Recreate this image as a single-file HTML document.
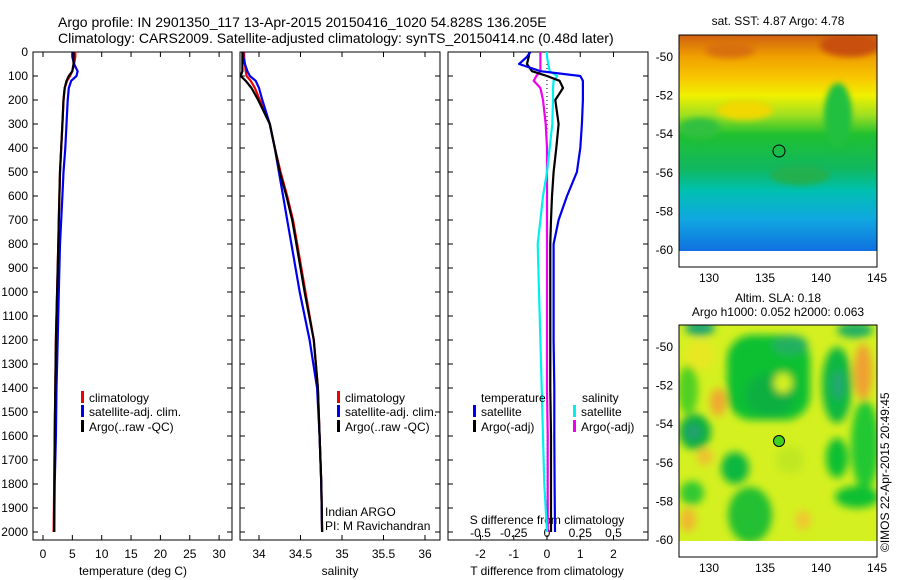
<!DOCTYPE html>
<html><head><meta charset="utf-8">
<style>
html,body{margin:0;padding:0;background:#fff;}
svg{display:block;font-family:"Liberation Sans",sans-serif;}
text{fill:#000;}
</style></head>
<body>
<svg id="chart" width="900" height="580" viewBox="0 0 900 580">
<defs>
  <filter id="blur6" x="-50%" y="-50%" width="200%" height="200%"><feGaussianBlur stdDeviation="4"/></filter>
  <filter id="blur3" x="-50%" y="-50%" width="200%" height="200%"><feGaussianBlur stdDeviation="3"/></filter>
  <linearGradient id="sstGrad" x1="0" y1="0" x2="0" y2="1">
    <stop offset="0" stop-color="#d06010"/>
    <stop offset="0.1" stop-color="#f0a000"/>
    <stop offset="0.2" stop-color="#f8c800"/>
    <stop offset="0.28" stop-color="#f0f000"/>
    <stop offset="0.37" stop-color="#a0e020"/>
    <stop offset="0.46" stop-color="#20c030"/>
    <stop offset="0.62" stop-color="#10b860"/>
    <stop offset="0.72" stop-color="#00c0b0"/>
    <stop offset="0.85" stop-color="#10a8e0"/>
    <stop offset="1" stop-color="#1070e0"/>
  </linearGradient>
  <clipPath id="clipTop"><rect x="679" y="35" width="198" height="216"/></clipPath>
  <clipPath id="clipBot"><rect x="679" y="325" width="198" height="216"/></clipPath>
</defs>
<text x="58" y="27" font-size="14">Argo profile: IN 2901350_117 13-Apr-2015 20150416_1020 54.828S 136.205E</text>
<text x="58" y="43" font-size="14">Climatology: CARS2009. Satellite-adjusted climatology: synTS_20150414.nc (0.48d later)</text>
<g id="plots"></g>

<!-- top map -->
<g>
  <g clip-path="url(#clipTop)">
    <rect x="679" y="35" width="198" height="216" fill="url(#sstGrad)"/>
    <ellipse cx="838" cy="115" rx="14" ry="32" fill="#20c040" filter="url(#blur3)"/>
    <ellipse cx="700" cy="128" rx="20" ry="10" fill="#30c040" filter="url(#blur3)"/>
    <ellipse cx="850" cy="45" rx="30" ry="12" fill="#c85010" filter="url(#blur3)"/>
    <ellipse cx="730" cy="50" rx="25" ry="8" fill="#d87010" filter="url(#blur3)"/>
    <ellipse cx="745" cy="110" rx="28" ry="10" fill="#f0d800" filter="url(#blur3)"/>
    <ellipse cx="800" cy="175" rx="30" ry="10" fill="#20b050" filter="url(#blur3)"/>
  </g>
  <rect x="679" y="251" width="198" height="16" fill="#fff"/>
  <rect x="679" y="35" width="198" height="232" fill="none" stroke="#000" stroke-width="1"/>
  <circle cx="779" cy="151" r="6" fill="none" stroke="#000" stroke-width="1"/>
  <text x="778" y="25" font-size="12" text-anchor="middle">sat. SST: 4.87 Argo: 4.78</text>
</g>
<!-- bottom map -->
<g>
  <g clip-path="url(#clipBot)">
    <rect x="679" y="325" width="198" height="216" fill="#d4f020"/>
    <g filter="url(#blur6)">
      <rect x="727" y="335" width="83" height="85" rx="25" fill="#10c030"/>
      <ellipse cx="770" cy="395" rx="25" ry="22" fill="#10b040"/>
      <ellipse cx="783" cy="383" rx="9" ry="10" fill="#d4f020"/>
      <ellipse cx="790" cy="345" rx="18" ry="10" fill="#20b060"/>
      <ellipse cx="837" cy="385" rx="15" ry="38" fill="#10b840"/>
      <ellipse cx="838" cy="385" rx="7" ry="15" fill="#20a870"/>
      <ellipse cx="695" cy="432" rx="16" ry="18" fill="#10b040"/>
      <ellipse cx="693" cy="432" rx="8" ry="8" fill="#20a070"/>
      <ellipse cx="688" cy="390" rx="10" ry="25" fill="#50d020"/>
      <ellipse cx="735" cy="468" rx="14" ry="16" fill="#10b840"/>
      <ellipse cx="837" cy="458" rx="11" ry="20" fill="#10c030"/>
      <ellipse cx="865" cy="445" rx="14" ry="45" fill="#20c830"/>
      <ellipse cx="857" cy="497" rx="22" ry="11" fill="#10c030"/>
      <ellipse cx="750" cy="515" rx="22" ry="28" fill="#20c030"/>
      <ellipse cx="692" cy="493" rx="12" ry="12" fill="#30c830"/>
      <ellipse cx="700" cy="328" rx="15" ry="8" fill="#20a870"/>
      <ellipse cx="855" cy="330" rx="18" ry="8" fill="#20b060"/>
      <ellipse cx="700" cy="355" rx="15" ry="15" fill="#e8e820"/>
      <ellipse cx="863" cy="372" rx="9" ry="28" fill="#f0a030"/>
      <ellipse cx="718" cy="402" rx="8" ry="14" fill="#f0a830"/>
      <ellipse cx="705" cy="457" rx="8" ry="8" fill="#f0c030"/>
      <ellipse cx="688" cy="520" rx="8" ry="12" fill="#f0b830"/>
      <ellipse cx="803" cy="520" rx="8" ry="10" fill="#f0c830"/>
      <ellipse cx="790" cy="460" rx="14" ry="14" fill="#c0e820"/>
    </g>
  </g>
  <rect x="679" y="541" width="198" height="16" fill="#fff"/>
  <rect x="679" y="325" width="198" height="232" fill="none" stroke="#000" stroke-width="1"/>
  <circle cx="779" cy="441" r="5.5" fill="#40d020" stroke="#000" stroke-width="1"/>
  <text x="778" y="302" font-size="12" text-anchor="middle">Altim. SLA: 0.18</text>
  <text x="778" y="316" font-size="12" text-anchor="middle">Argo h1000: 0.052 h2000: 0.063</text>
</g>
<text transform="translate(889,552) rotate(-90)" font-size="12">©IMOS 22-Apr-2015 20:49:45</text>
</svg>
<script>
// ---- data ----
const depths = [0,20,50,80,100,120,150,200,300,400,500,600,700,800,1000,1200,1400,1600,1800,2000];
const tempClim = [5.5,5.5,5.3,5.0,4.6,4.1,3.7,3.5,3.3,3.1,2.9,2.8,2.7,2.6,2.4,2.2,2.1,2.0,1.9,1.8];
const tempSat  = [5.0,5.0,5.3,5.9,5.7,4.8,4.4,4.2,4.0,3.8,3.5,3.3,3.1,2.9,2.7,2.5,2.3,2.2,2.0,1.9];
const tempArgo = [5.2,5.2,5.2,5.0,4.4,4.0,3.7,3.5,3.3,3.1,2.9,2.8,2.7,2.6,2.4,2.2,2.1,2.0,1.95,1.9];
const salClim = [33.82,33.82,33.83,33.84,33.85,33.90,33.95,34.01,34.13,34.19,34.26,34.34,34.41,34.46,34.56,34.66,34.71,34.73,34.75,34.76];
const salSat  = [33.81,33.81,33.83,33.86,33.89,33.96,34.00,34.04,34.13,34.19,34.24,34.29,34.34,34.39,34.49,34.61,34.70,34.73,34.75,34.76];
const salArgo = [33.80,33.80,33.80,33.80,33.78,33.84,33.91,33.99,34.13,34.19,34.25,34.33,34.40,34.45,34.55,34.66,34.71,34.73,34.75,34.76];
const tDiffSat  = [-0.5,-0.6,-0.84,-0.2,1.0,1.08,1.08,1.08,1.05,1.0,0.9,0.6,0.35,0.2,0.2,0.2,0.22,0.22,0.23,0.24];
const tDiffArgo = [-0.53,-0.55,-0.6,-0.45,0.0,0.38,0.48,0.25,0.35,0.28,0.2,0.15,0.12,0.1,0.1,0.1,0.1,0.12,0.12,0.12];
const sDiffSat  = [0.0,0.0,0.01,0.02,0.077,0.05,0.045,0.045,0.04,0.02,0.0,-0.03,-0.05,-0.07,-0.06,-0.05,-0.04,-0.03,-0.02,0.0];
const sDiffArgo = [-0.05,-0.05,-0.05,-0.05,-0.08,-0.1,-0.05,-0.03,-0.01,0.0,0.0,0.0,0.0,0.0,0.0,0.0,0.0,0.005,0.005,0.005];
const depthTicks = [0,100,200,300,400,500,600,700,800,900,1000,1100,1200,1300,1400,1500,1600,1700,1800,1900,2000];
const tempTicks = [0,5,10,15,20,25,30];
const salTicks = [34,34.5,35,35.5,36];
const salTickLabels = ["34","34.5","35","35.5","36"];
const tDiffTicks = [-2,-1,0,1,2];
const sDiffTicks = [-0.5,-0.25,0,0.25,0.5];
const sDiffTickLabels = ["-0.5","-0.25","0","0.25","0.5"];
const latTicks = [-50,-52,-54,-56,-58,-60];
const lonTicks = [130,135,140,145];

// ---- scales ----
const TOP = 52, BOT = 540;
const yDepth = d => TOP + d * 0.24;
const P1 = {x0:33, x1:232}, P2 = {x0:240, x1:440}, P3 = {x0:448, x1:648};
const xTemp = t => 43 + t * 5.87;
const xSal = s => 259 + (s - 34) * 83;
const xTDiff = t => 547 + t * 33.25;
const xSDiff = s => 547 + s * 133;
const yLat = la => 57 + (-50 - la) * 19.3;
const xLon = lo => 709 + (lo - 130) * 11.2;

const NS = "http://www.w3.org/2000/svg";
const root = document.getElementById('plots');
function mk(tag, attrs, parent) {
  const e = document.createElementNS(NS, tag);
  for (const k in attrs) e.setAttribute(k, attrs[k]);
  (parent || root).appendChild(e);
  return e;
}
function txt(x, y, s, anchor, size, parent) {
  const e = mk('text', {x:x, y:y, 'font-size':size||12, 'text-anchor':anchor||'start'}, parent);
  e.textContent = s;
  return e;
}

// frames
[[P1,'temperature-panel'],[P2,'salinity-panel'],[P3,'difference-panel']].forEach(([p,n]) => {
  const r = mk('rect', {x:p.x0, y:TOP, width:p.x1-p.x0, height:BOT-TOP, fill:'none', stroke:'#000', 'stroke-width':1});
  
  
});

// depth ticks
depthTicks.forEach(d => {
  const y = yDepth(d);
  [P1,P2,P3].forEach(p => {
    mk('line', {x1:p.x0, x2:p.x0+5, y1:y, y2:y, stroke:'#000'});
    mk('line', {x1:p.x1, x2:p.x1-5, y1:y, y2:y, stroke:'#000'});
  });
  const t = txt(28, y + 4, String(d), 'end');
  
  
});

function xTicks(p, vals, fx, labels, ly) {
  vals.forEach((v, i) => {
    const x = fx(v);
    mk('line', {x1:x, x2:x, y1:BOT, y2:BOT-5, stroke:'#000'});
    mk('line', {x1:x, x2:x, y1:TOP, y2:TOP+5, stroke:'#000'});
    if (labels) {
      const t = txt(x, ly, labels[i], 'middle');
      
      
    }
  });
}
xTicks(P1, tempTicks, xTemp, tempTicks.map(String), 558);
xTicks(P2, salTicks, xSal, salTickLabels, 558);
xTicks(P3, tDiffTicks, xTDiff, tDiffTicks.map(String), 558);
sDiffTicks.forEach((v, i) => {
  const t = txt(xSDiff(v), 537, sDiffTickLabels[i], 'middle');
  
  
});

let a;
a = txt(133, 575, 'temperature (deg C)', 'middle');


a = txt(340, 575, 'salinity', 'middle');


a = txt(547, 575, 'T difference from climatology', 'middle');


a = txt(547, 524, 'S difference from climatology', 'middle');



// zero line
a = mk('line', {x1:547, x2:547, y1:yDepth(0), y2:yDepth(2000), stroke:'#000', 'stroke-dasharray':'1,3'});



function series(vals, fx, color, name) {
  const pts = depths.map((d, i) => fx(vals[i]).toFixed(1) + ',' + yDepth(d).toFixed(1)).join(' ');
  const pl = mk('polyline', {points:pts, fill:'none', stroke:color, 'stroke-width':2.2, 'stroke-linejoin':'round'});
  
  
}
series(tempClim, xTemp, '#f00000', 'temp-climatology-line');
series(tempSat, xTemp, '#0000f0', 'temp-satellite-line');
series(tempArgo, xTemp, '#000', 'temp-argo-line');
series(salClim, xSal, '#f00000', 'sal-climatology-line');
series(salSat, xSal, '#0000f0', 'sal-satellite-line');
series(salArgo, xSal, '#000', 'sal-argo-line');
series(sDiffArgo, xSDiff, '#f000f0', 's-diff-argo-line');
series(sDiffSat, xSDiff, '#00f0f0', 's-diff-satellite-line');
series(tDiffArgo, xTDiff, '#000', 't-diff-argo-line');
series(tDiffSat, xTDiff, '#0000f0', 't-diff-satellite-line');

function legendEntry(x, y, color, label) {
  const g = mk('g', {});
  
  
  mk('rect', {x:x, y:y-11, width:3, height:12, fill:color}, g);
  txt(x + 8, y, label, 'start', 12, g);
}
legendEntry(81, 402, '#f00000', 'climatology');
legendEntry(81, 416, '#0000f0', 'satellite-adj. clim.');
legendEntry(81, 431, '#000', 'Argo(..raw -QC)');
legendEntry(337, 402, '#f00000', 'climatology');
legendEntry(337, 416, '#0000f0', 'satellite-adj. clim.');
legendEntry(337, 431, '#000', 'Argo(..raw -QC)');
a = txt(481, 402, 'temperature');


a = txt(582, 402, 'salinity');


legendEntry(473, 416, '#0000f0', 'satellite');
legendEntry(473, 431, '#000', 'Argo(-adj)');
legendEntry(573, 416, '#00f0f0', 'satellite');
legendEntry(573, 431, '#f000f0', 'Argo(-adj)');
a = txt(325, 516, 'Indian ARGO');


a = txt(325, 530, 'PI: M Ravichandran');



// map ticks
[[35,267],[325,557]].forEach(([t, b]) => {
  const off = t - 35;
  latTicks.forEach(la => {
    const y = yLat(la) + off;
    mk('line', {x1:679, x2:684, y1:y, y2:y, stroke:'#000'});
    mk('line', {x1:877, x2:872, y1:y, y2:y, stroke:'#000'});
    const l = txt(673, y + 4, String(la), 'end');
    
    
  });
  lonTicks.forEach(lo => {
    const x = xLon(lo);
    mk('line', {x1:x, x2:x, y1:t, y2:t+5, stroke:'#000'});
    mk('line', {x1:x, x2:x, y1:b, y2:b-5, stroke:'#000'});
    const l = txt(x, b + 15, String(lo), 'middle');
    
    
  });
});
</script>
</body></html>
